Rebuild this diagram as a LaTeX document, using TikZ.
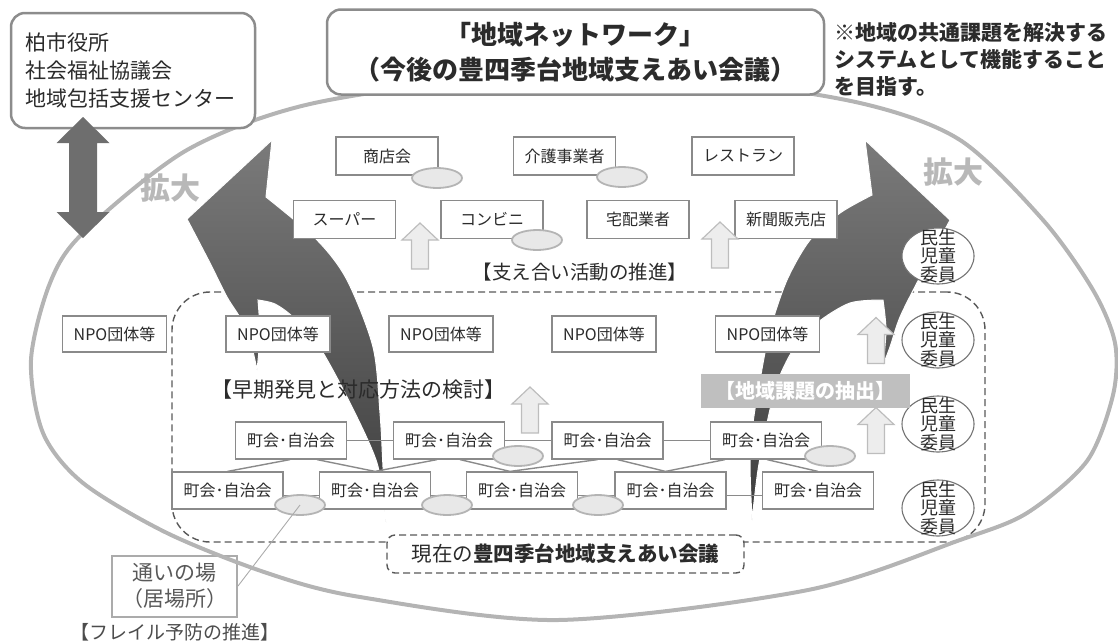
\documentclass[tikz,border=0pt]{standalone}
\usepackage{fontspec}
\setmainfont{Noto Sans CJK JP}
\usetikzlibrary{shapes, arrows.meta, calc}
\definecolor{txtdark}{HTML}{2B2B2B}
\definecolor{boxline}{HTML}{8A8A8A}
\definecolor{roundline}{HTML}{8C8C8C}
\definecolor{ringgray}{HTML}{B4B4B4}
\definecolor{blobfill}{HTML}{E8E8E8}
\definecolor{blobline}{HTML}{B4B4B4}
\definecolor{upfill}{HTML}{EDEDED}
\definecolor{upline}{HTML}{BDBDBD}
\definecolor{kadaigray}{HTML}{BFBFBF}
\definecolor{kakugray}{HTML}{B8B8B8}
\definecolor{darkarrow}{HTML}{6E6E6E}
\definecolor{dashgray}{HTML}{595959}
\definecolor{kayoigray}{HTML}{ABABAB}

\begin{document}
\begin{tikzpicture}[x=1pt, y=-1pt,
  smallbox/.style={draw=boxline, line width=1.2pt, fill=white, minimum width=102, minimum height=38, inner sep=0pt, text=txtdark, font=\fontsize{16}{18}\selectfont},
  npobox/.style={smallbox, minimum width=104, minimum height=36},
  chobox/.style={smallbox, minimum width=111, minimum height=37},
  blob/.style={ellipse, draw=blobline, fill=blobfill, line width=1.8pt, minimum width=50, minimum height=20, inner sep=0pt},
  minsei/.style={ellipse, draw=black!55, fill=white, line width=1.1pt, minimum width=72, minimum height=56, inner sep=0pt,
    label={[font=\fontsize{18}{18.5}\selectfont, text=txtdark, align=center, inner sep=0pt]center:民生\\児童\\委員}},
  uparrow/.style={draw=upline, fill=upfill, line width=1.2pt},
  uparr/.pic={\path[pic actions] (-8.5,23) -- (-8.5,-6) -- (-18,-6) -- (0,-23) -- (18,-6) -- (8.5,-6) -- (8.5,23) -- cycle;},
  dblarr/.pic={\path[pic actions] (0,-60.5) -- (26.5,-34.5) -- (14,-34.5) -- (14,34.5) -- (26.5,34.5) -- (0,60.5) -- (-26.5,34.5) -- (-14,34.5) -- (-14,-34.5) -- (-26.5,-34.5) -- cycle;},
  bigbox/.style={draw=roundline, line width=2.5pt, rounded corners=14pt, fill=white, inner sep=0pt, text=txtdark},
  frame/.style={draw=dashgray, dash pattern=on 7pt off 4pt, line width=1.4pt, rounded corners=38pt, minimum width=813, minimum height=250},
  linkline/.style={draw=boxline, line width=1.4pt},
  bigarrow/.style={top color=black!52, bottom color=black!76, draw=white, line width=1pt},
  bracket/.style={text=txtdark, font=\fontsize{21}{24}\selectfont},
  kakudai/.style={text=kakugray, font=\fontsize{30}{32}\selectfont\bfseries}
]
  \useasboundingbox (0,0) rectangle (1118,643);

  % current meeting frame
  \node[frame] (now) at (578.5,417) {};

  % expanding arrows
  \path[bigarrow] (272,140) -- (187,219)
    -- plot[smooth] coordinates {(187,219) (210,263) (227,297) (247,330) (257,370)}
    -- plot[smooth] coordinates {(257,370) (260,335) (258,300)}
    -- plot[smooth] coordinates {(258,300) (275,304) (293,317) (317,343) (347,397) (377,463) (386,522)}
    -- plot[smooth] coordinates {(386,522) (383,467) (380,413) (373,347) (347,280) (317,240) (266,197)}
    -- cycle;
  \path[bigarrow] (865,140) -- (950,220)
    -- plot[smooth] coordinates {(950,220) (920,277) (900,317) (890,347) (883,365)}
    -- plot[smooth] coordinates {(883,365) (886,330) (883,300)}
    -- plot[smooth] coordinates {(883,300) (850,303) (817,323) (793,350) (777,383) (767,423) (758,470) (752,520)}
    -- plot[smooth] coordinates {(752,520) (750,463) (753,423) (760,380) (770,330) (787,280) (810,240) (840,213) (872,195)}
    -- cycle;

  % neighbourhood associations
  \node[chobox] (r1a) at (291,440.5) {町会･自治会};
  \node[chobox] (r1b) at (449,440.5) {町会･自治会};
  \node[chobox] (r1c) at (607.5,440.5) {町会･自治会};
  \node[chobox] (r1d) at (766,440.5) {町会･自治会};
  \node[chobox] (r2a) at (227.5,490.5) {町会･自治会};
  \node[chobox] (r2b) at (375,490.5) {町会･自治会};
  \node[chobox] (r2c) at (522,490.5) {町会･自治会};
  \node[chobox] (r2d) at (670.5,490.5) {町会･自治会};
  \node[chobox] (r2e) at (818,490.5) {町会･自治会};

  \draw[linkline] (r1a) -- (r1b) (r1b) -- (r1c) (r1c) -- (r1d);
  \draw[linkline] ([yshift=-5pt]r2a.east) -- ([yshift=-5pt]r2b.west);
  \draw[linkline] ([yshift=-5pt]r2b.east) -- ([yshift=-5pt]r2c.west);
  \draw[linkline] ([yshift=-5pt]r2c.east) -- ([yshift=-5pt]r2d.west);
  \draw[linkline] ([yshift=-5pt]r2d.east) -- ([yshift=-5pt]r2e.west);
  \draw[linkline] ($(r1a.south)+(-1,0)$) -- (r2a.north);
  \draw[linkline] ($(r1a.south)+(26,0)$) -- (r2b.north) -- ($(r1b.south)+(-12,0)$);
  \draw[linkline] ($(r1b.south)+(11,0)$) -- ($(r2c.north)+(-12,0)$) -- ($(r1c.south)+(-10,0)$);
  \draw[linkline] ($(r1c.south)+(10,0)$) -- ($(r2d.north)+(-5,0)$) -- ($(r1d.south)+(-41,0)$);
  \draw[linkline] ($(r1d.south)+(1,0)$) -- (r2e.north);

  % shops and services
  \node[smallbox] (shoten) at (387,156) {商店会};
  \node[smallbox] (kaigo) at (564.5,156) {介護事業者};
  \node[smallbox] (resto) at (743,156) {レストラン};
  \node[smallbox] (super) at (344.5,219.5) {スーパー};
  \node[smallbox] (konbini) at (492,219.5) {コンビニ};
  \node[smallbox] (takuhai) at (638,219.5) {宅配業者};
  \node[smallbox] (shinbun) at (786,219.5) {新聞販売店};

  \node[npobox] (npo1) at (114.5,334) {NPO団体等};
  \node[npobox] (npo2) at (278,334) {NPO団体等};
  \node[npobox] (npo3) at (441,334) {NPO団体等};
  \node[npobox] (npo4) at (604,334) {NPO団体等};
  \node[npobox] (npo5) at (767.5,334) {NPO団体等};

  % meeting places
  \node[blob] (e1) at (437,178) {};
  \node[blob] (e2) at (622,177) {};
  \node[blob] (e3) at (537,240) {};
  \node[blob] (e4) at (518,456) {};
  \node[blob] (e5) at (830,456) {};
  \node[blob] (e6) at (300,505) {};
  \node[blob] (e7) at (447,505) {};
  \node[blob] (e8) at (598,505) {};

  % welfare commissioners
  \node[minsei] (minsei1) at (938,256) {};
  \node[minsei] (minsei2) at (938,340) {};
  \node[minsei] (minsei3) at (938,424) {};
  \node[minsei] (minsei4) at (938,508) {};

  % small arrows
  \pic[uparrow] (upA) at (420,246) {uparr};
  \pic[uparrow] (upB) at (720,245) {uparr};
  \pic[uparrow] (upC) at (530,410) {uparr};
  \pic[uparrow] (upD) at (876,340.5) {uparr};
  \pic[uparrow] (upE) at (876,430.5) {uparr};

  % labels
  \node[bracket, font=\fontsize{19.5}{22}\selectfont] (sasae) at (580,272) {【支え合い活動の推進】};
  \node[bracket] (souki) at (358.5,390) {【早期発見と対応方法の検討】};
  \node[fill=kadaigray, text=white, minimum width=209, minimum height=34, inner sep=0pt, font=\fontsize{20}{22}\selectfont\bfseries] (kadai) at (805.5,391) {【地域課題の抽出】};
  \node[draw=dashgray, dash pattern=on 7pt off 4pt, line width=1.4pt, rounded corners=8pt, fill=white, minimum width=357, minimum height=38, inner sep=0pt, text=txtdark, font=\fontsize{20.5}{22}\selectfont] (genzai) at (565.5,554) {現在の{\bfseries 豊四季台地域支えあい会議}};
  \node[kakudai] (kakuL) at (170,188) {拡大};
  \node[kakudai] (kakuR) at (953,172) {拡大};

  % frailty prevention
  \node[draw=kayoigray, line width=2pt, fill=white, minimum width=125, minimum height=61, inner sep=0pt, align=center, text=black!65, font=\fontsize{21}{26}\selectfont] (kayoi) at (174.5,586) {通いの場\\（居場所）};
  \node[bracket, text=black!70, font=\fontsize{19}{22}\selectfont] (frail) at (175,632) {【フレイル予防の推進】};
  \draw[draw=kayoigray, line width=0.9pt] (kayoi.east) -- (e6.center);

  % regional network ring
  \draw[ringgray, line width=4pt] plot[smooth cycle] coordinates {(31,360) (43,433) (83,483) (167,533) (267,573) (360,597) (558,620) (808,590) (960,540) (1027,513) (1087,461) (1113,395) (1115,343) (1093,290) (1043,220) (960,140) (860,103) (700,80) (500,78) (310,104) (187,150) (83,233) (50,283)};

  % top boxes
  \node[bigbox, minimum width=244, minimum height=115, text width=216, align=left, font=\fontsize{21}{28}\selectfont] (city) at (133,70.5) {柏市役所\\社会福祉協議会\\地域包括支援センター};
  \node[bigbox, minimum width=497, minimum height=85, align=center, font=\fontsize{26}{35}\selectfont\bfseries] (title) at (575.5,52) {「地域ネットワーク」\\（今後の豊四季台地域支えあい会議）};
  \node[anchor=west, align=left, text=txtdark, font=\fontsize{21}{27}\selectfont\bfseries] (note) at (831,60) {※地域の共通課題を解決する\\システムとして機能すること\\を目指す。};
  \pic[fill=darkarrow] (dbl) at (83,177.5) {dblarr};
\end{tikzpicture}
\end{document}
